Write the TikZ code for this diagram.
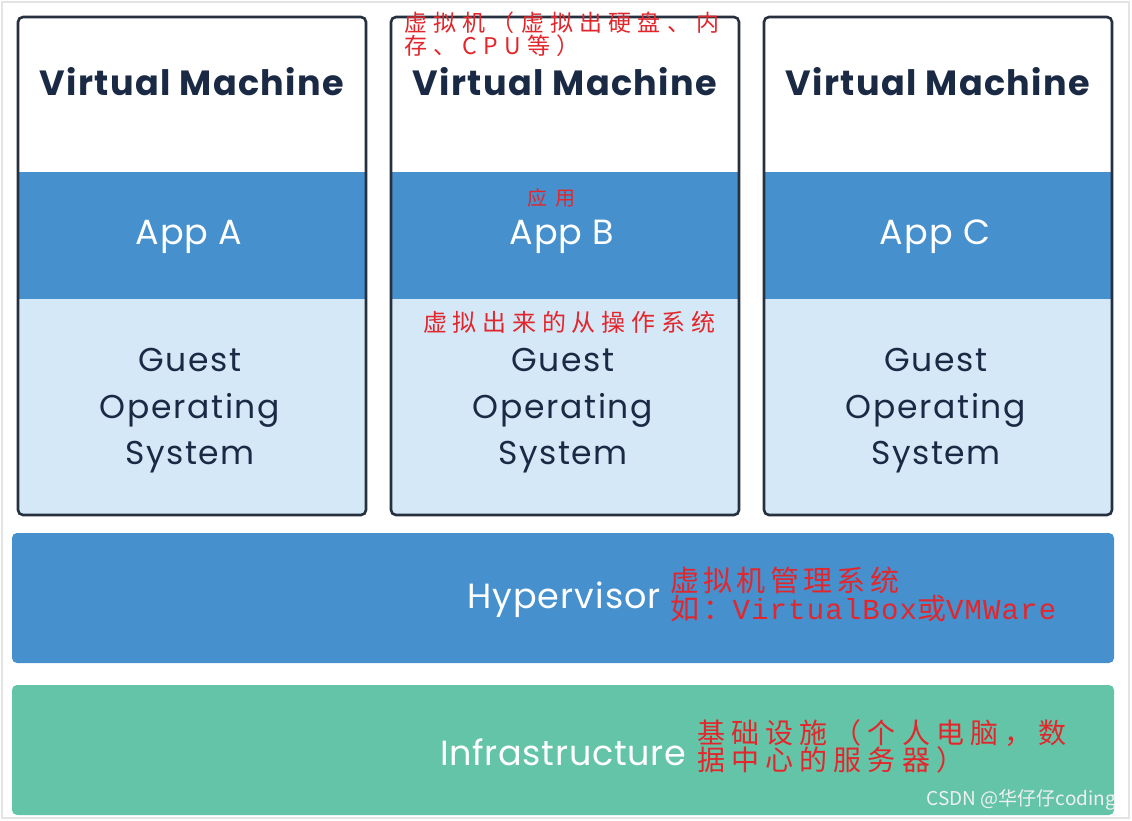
\documentclass[tikz,border=0pt]{standalone}
\usepackage{fontspec}
\newfontfamily\pop{Poppins}
\newfontfamily\cjk{Noto Sans CJK SC}
\newfontfamily\latmono{Liberation Mono}
\definecolor{navy}{HTML}{1B2A44}
\definecolor{framenavy}{HTML}{26303F}
\definecolor{appblue}{HTML}{4590CD}
\definecolor{oslight}{HTML}{D4E8F8}
\definecolor{infragreen}{HTML}{64C4A7}
\definecolor{notered}{HTML}{E3262B}
\definecolor{edgegray}{HTML}{E4E4E4}
\tikzset{
  vmframe/.style={draw=framenavy, line width=2.6pt, rounded corners=5pt, minimum width=348pt, minimum height=498pt, inner sep=0pt},
  vmtitle/.style={text=navy, inner sep=0pt, font=\pop\bfseries\addfontfeature{LetterSpace=4}\fontsize{35}{40}\selectfont},
  applabel/.style={text=white, inner sep=0pt, font=\pop\addfontfeature{LetterSpace=3}\fontsize{35}{40}\selectfont},
  oslabel/.style={text=navy, align=center, inner sep=0pt, font=\pop\addfontfeature{LetterSpace=5}\fontsize{33}{46.5}\selectfont},
  layer/.style={rounded corners=5pt, minimum width=1102pt, minimum height=130pt, inner sep=0pt},
  layerlabel/.style={text=white, anchor=west, inner sep=0pt, font=\pop\addfontfeature{LetterSpace=3}\fontsize{35}{40}\selectfont},
  note/.style={text=notered, anchor=west, align=left, inner sep=0pt},
}
\begin{document}
\begin{tikzpicture}[x=1pt,y=-1pt]
\useasboundingbox (0,0) rectangle (1132,821);
\fill[white] (0,0) rectangle (1132,821);
\draw[edgegray, line width=2pt] (2,2) rectangle (1129,818);
\foreach \L/\n/\a in {18/a/A, 391/b/B, 764/c/C}{
  \begin{scope}
    \clip[rounded corners=5pt] (\L,17) rectangle ++(348,498);
    \fill[white] (\L,17) rectangle ++(348,155);
    \fill[appblue] (\L,172) rectangle ++(348,127);
    \fill[oslight] (\L,299) rectangle ++(348,216);
  \end{scope}
  \node[vmframe] (vm\n) at ({\L+174},266) {};
  \node[vmtitle] (title\n) at ({\L+174},82) {Virtual Machine};
  \node[applabel] (app\n) at ({\L+171},237) {App \a};
  \node[oslabel] (os\n) at ({\L+172},411) {Guest\\Operating\\System};
}
\node[layer, fill=appblue] (hyp) at (563,598) {};
\node[layerlabel] (hyplabel) at (467,600) {Hypervisor};
\node[layer, fill=infragreen] (infra) at (563,750) {};
\node[layerlabel, font=\pop\addfontfeature{LetterSpace=2}\fontsize{35}{40}\selectfont] (infralabel) at (440,752) {Infrastructure};
% annotations
\node[note, font=\cjk\addfontfeature{LetterSpace=27}\fontsize{23}{23}\selectfont] (n1) at (404,34) {虚拟机（虚拟出硬盘、内\\存、CPU等）};
\node[note, font=\cjk\addfontfeature{LetterSpace=40}\fontsize{20}{20}\selectfont] (n2) at (527,198) {应用};
\node[note, font=\cjk\addfontfeature{LetterSpace=24}\fontsize{24}{24}\selectfont] (n3) at (423,322) {虚拟出来的从操作系统};
\node[note, font=\cjk\addfontfeature{LetterSpace=15}\fontsize{29}{28}\selectfont] (n4) at (670,594) {虚拟机管理系统\\如：{\latmono\addfontfeature{LetterSpace=4}\fontsize{29}{28}\selectfont VirtualBox}或{\latmono\addfontfeature{LetterSpace=4}\fontsize{29}{28}\selectfont VMWare}};
\node[note, font=\cjk\addfontfeature{LetterSpace=22}\fontsize{28}{27}\selectfont] (n5) at (697,746) {基础设施（个人电脑，数\\据中心的服务器）};
\node[anchor=east, inner sep=0pt, text=white!94!black, font=\cjk\fontsize{19}{20}\selectfont] (wm) at (1116,800) {CSDN @华仔仔coding};
\end{tikzpicture}
\end{document}
